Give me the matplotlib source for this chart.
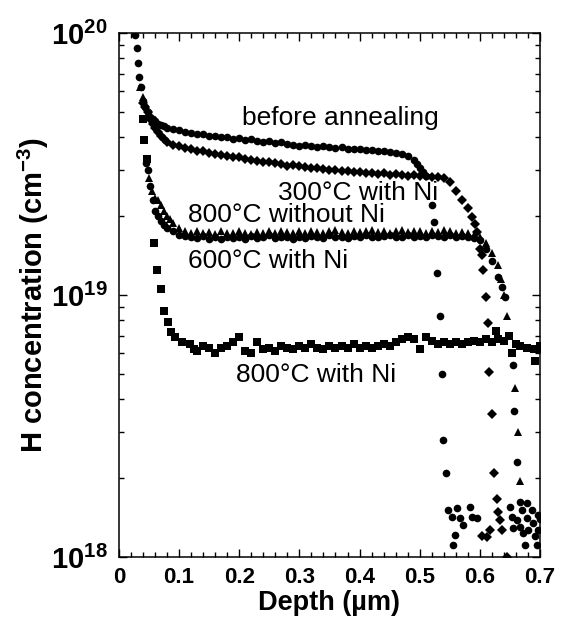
import numpy as np
import matplotlib
matplotlib.use('Agg')
import matplotlib.pyplot as plt
from matplotlib.ticker import MultipleLocator, LogLocator, NullFormatter, FuncFormatter

plt.rcParams['font.family'] = ['Liberation Sans', 'DejaVu Sans']
plt.rcParams['mathtext.fontset'] = 'custom'
plt.rcParams['mathtext.rm'] = 'Liberation Sans:bold'
plt.rcParams['mathtext.bf'] = 'Liberation Sans:bold'
plt.rcParams['mathtext.default'] = 'bf'

#----------------------------- data -----------------------------#

# before annealing (circles)
d_before = [0.027, 0.030, 0.032, 0.034, 0.036, 0.040, 0.044, 0.048, 0.052, 0.056,
            0.060, 0.065, 0.070, 0.075, 0.080, 0.090, 0.100, 0.110, 0.120, 0.130,
            0.140, 0.150, 0.160, 0.170, 0.180, 0.190, 0.200, 0.210, 0.220, 0.230,
            0.240, 0.250, 0.260, 0.270, 0.280, 0.290, 0.300, 0.310, 0.320, 0.330,
            0.340, 0.350, 0.360, 0.370, 0.380, 0.390, 0.400, 0.410, 0.420, 0.430,
            0.440, 0.450, 0.460, 0.470, 0.480, 0.490, 0.495, 0.500, 0.505, 0.510,
            0.520, 0.524, 0.529, 0.534, 0.537, 0.539, 0.543,
            0.547, 0.553, 0.556, 0.559, 0.562, 0.567, 0.572, 0.583, 0.587, 0.595]
c_before = [9.8e19, 8.8e19, 7.7e19, 6.8e19, 6.2e19, 5.5e19, 5.2e19, 5.0e19, 4.8e19, 4.7e19,
            4.6e19, 4.5e19, 4.45e19, 4.4e19, 4.35e19, 4.3e19, 4.25e19, 4.2e19, 4.15e19, 4.1e19,
            4.12e19, 4.05e19, 4.06e19, 4.0e19, 4.02e19, 3.95e19, 3.97e19, 3.9e19, 3.93e19, 3.88e19,
            3.85e19, 3.86e19, 3.8e19, 3.83e19, 3.78e19, 3.75e19, 3.72e19, 3.75e19, 3.7e19, 3.68e19,
            3.71e19, 3.66e19, 3.64e19, 3.67e19, 3.62e19, 3.6e19, 3.61e19, 3.58e19, 3.57e19, 3.55e19,
            3.53e19, 3.5e19, 3.48e19, 3.44e19, 3.38e19, 3.28e19, 3.15e19, 3.05e19, 2.95e19, 2.85e19,
            2.2e19, 1.9e19, 1.21e19, 8.3e18, 5.0e18, 2.8e18, 2.1e18,
            1.51e18, 1.42e18, 1.11e18, 1.21e18, 1.54e18, 1.41e18, 1.33e18, 1.55e18, 1.42e18, 1.41e18]

# 300 C with Ni (diamonds)
d_300 = [0.040, 0.044, 0.048, 0.052, 0.056, 0.060, 0.065, 0.070, 0.075, 0.080,
         0.090, 0.100, 0.110, 0.120, 0.130, 0.140, 0.150, 0.160, 0.170, 0.180,
         0.190, 0.200, 0.210, 0.220, 0.230, 0.240, 0.250, 0.260, 0.270, 0.280,
         0.290, 0.300, 0.310, 0.320, 0.330, 0.340, 0.350, 0.360, 0.370, 0.380,
         0.390, 0.400, 0.410, 0.420, 0.430, 0.440, 0.450, 0.460, 0.470, 0.480,
         0.490, 0.500, 0.510, 0.520, 0.530, 0.540, 0.550, 0.560, 0.570, 0.580,
         0.587, 0.592, 0.595, 0.600, 0.603, 0.605, 0.610, 0.614, 0.616, 0.620, 0.624,
         0.603, 0.612, 0.617, 0.628, 0.630, 0.634, 0.637, 0.645]
c_300 = [5.4e19, 5.2e19, 5.0e19, 4.7e19, 4.5e19, 4.35e19, 4.2e19, 4.05e19, 3.95e19, 3.85e19,
         3.75e19, 3.7e19, 3.65e19, 3.6e19, 3.55e19, 3.53e19, 3.48e19, 3.46e19, 3.43e19, 3.4e19,
         3.36e19, 3.36e19, 3.3e19, 3.29e19, 3.25e19, 3.22e19, 3.21e19, 3.18e19, 3.15e19, 3.12e19,
         3.13e19, 3.1e19, 3.08e19, 3.05e19, 3.06e19, 3.02e19, 3.0e19, 3.01e19, 2.98e19, 2.97e19,
         2.95e19, 2.96e19, 2.93e19, 2.92e19, 2.9e19, 2.91e19, 2.88e19, 2.9e19, 2.87e19, 2.85e19,
         2.86e19, 2.84e19, 2.85e19, 2.82e19, 2.83e19, 2.8e19, 2.7e19, 2.5e19, 2.3e19, 2.14e19,
         1.98e19, 1.86e19, 1.74e19, 1.5e19, 1.42e19, 1.25e19, 9.8e18, 7.8e18, 5.1e18, 3.5e18, 2.1e18,
         1.2e18, 1.19e18, 1.27e18, 1.66e18, 1.48e18, 1.38e18, 1.27e18, 1.0e18]

# 600 C with Ni (circles)
d_600 = [0.045, 0.048, 0.052, 0.056, 0.060, 0.065, 0.070, 0.075, 0.080, 0.090,
         0.100, 0.110, 0.120, 0.130, 0.140, 0.150, 0.160, 0.170, 0.180, 0.190,
         0.200, 0.210, 0.220, 0.230, 0.240, 0.250, 0.260, 0.270, 0.280, 0.290,
         0.300, 0.310, 0.320, 0.330, 0.340, 0.350, 0.360, 0.370, 0.380, 0.390,
         0.400, 0.410, 0.420, 0.430, 0.440, 0.450, 0.460, 0.470, 0.480, 0.490,
         0.500, 0.510, 0.520, 0.530, 0.540, 0.550, 0.560, 0.570, 0.580, 0.590,
         0.600, 0.610, 0.620, 0.630, 0.637, 0.642, 0.655, 0.657, 0.662,
         0.650, 0.653, 0.655, 0.662, 0.667, 0.670, 0.667, 0.672, 0.678, 0.678,
         0.680, 0.675, 0.687, 0.689, 0.692, 0.695, 0.697, 0.697, 0.700]
c_600 = [3.2e19, 3.0e19, 2.6e19, 2.3e19, 2.1e19, 2.0e19, 1.92e19, 1.85e19, 1.8e19, 1.75e19,
         1.7e19, 1.68e19, 1.66e19, 1.65e19, 1.68e19, 1.64e19, 1.66e19, 1.63e19, 1.67e19, 1.65e19,
         1.66e19, 1.64e19, 1.68e19, 1.65e19, 1.66e19, 1.69e19, 1.65e19, 1.67e19, 1.66e19, 1.64e19,
         1.67e19, 1.65e19, 1.68e19, 1.66e19, 1.65e19, 1.69e19, 1.66e19, 1.67e19, 1.65e19, 1.68e19,
         1.66e19, 1.69e19, 1.67e19, 1.66e19, 1.68e19, 1.7e19, 1.67e19, 1.66e19, 1.69e19, 1.67e19,
         1.68e19, 1.66e19, 1.7e19, 1.68e19, 1.67e19, 1.69e19, 1.67e19, 1.68e19, 1.66e19, 1.65e19,
         1.62e19, 1.5e19, 1.35e19, 1.17e19, 1.07e19, 9.8e18, 5.4e18, 3.6e18, 2.3e18,
         1.55e18, 1.42e18, 1.29e18, 1.38e18, 1.62e18, 1.51e18, 1.3e18, 1.24e18, 1.61e18, 1.41e18,
         1.27e18, 1.11e18, 1.51e18, 1.35e18, 1.2e18, 1.11e18, 1.45e18, 1.27e18, 1.4e18]

# 800 C without Ni (triangles)
d_800wo = [0.035, 0.040, 0.050, 0.055, 0.060, 0.065, 0.070, 0.075, 0.080, 0.085,
           0.090, 0.100, 0.110, 0.120, 0.130, 0.140, 0.150, 0.160, 0.170, 0.180,
           0.190, 0.200, 0.210, 0.220, 0.230, 0.240, 0.250, 0.260, 0.270, 0.280,
           0.290, 0.300, 0.310, 0.320, 0.330, 0.340, 0.350, 0.360, 0.370, 0.380,
           0.390, 0.400, 0.410, 0.420, 0.430, 0.440, 0.450, 0.460, 0.470, 0.480,
           0.490, 0.500, 0.510, 0.520, 0.530, 0.540, 0.550, 0.560, 0.570, 0.580,
           0.590, 0.600, 0.610, 0.620, 0.630, 0.635, 0.640, 0.645, 0.658, 0.663, 0.667]
c_800wo = [6.2e19, 5.7e19, 2.8e19, 2.5e19, 2.35e19, 2.3e19, 2.2e19, 2.1e19, 2.0e19, 1.95e19,
           1.88e19, 1.8e19, 1.75e19, 1.73e19, 1.76e19, 1.72e19, 1.74e19, 1.71e19, 1.75e19, 1.73e19,
           1.72e19, 1.76e19, 1.73e19, 1.71e19, 1.74e19, 1.72e19, 1.75e19, 1.73e19, 1.76e19, 1.74e19,
           1.72e19, 1.75e19, 1.73e19, 1.76e19, 1.74e19, 1.72e19, 1.75e19, 1.77e19, 1.74e19, 1.73e19,
           1.76e19, 1.74e19, 1.75e19, 1.77e19, 1.74e19, 1.76e19, 1.73e19, 1.75e19, 1.77e19, 1.74e19,
           1.76e19, 1.75e19, 1.73e19, 1.76e19, 1.74e19, 1.77e19, 1.75e19, 1.73e19, 1.74e19, 1.72e19,
           1.7e19, 1.66e19, 1.58e19, 1.45e19, 1.3e19, 1.15e19, 1.0e19, 8.3e18, 4.4e18, 3.0e18, 1.95e18]

# 800 C with Ni (squares)
d_800ni = [0.040, 0.042, 0.046, 0.058, 0.063, 0.070, 0.075, 0.081, 0.087, 0.093,
           0.105, 0.118, 0.125, 0.130, 0.140, 0.150, 0.160, 0.170, 0.180, 0.190,
           0.200, 0.210, 0.220, 0.230, 0.240, 0.250, 0.260, 0.270, 0.280, 0.290,
           0.300, 0.310, 0.320, 0.330, 0.340, 0.350, 0.360, 0.370, 0.380, 0.390,
           0.400, 0.410, 0.420, 0.430, 0.440, 0.450, 0.460, 0.470, 0.480, 0.490,
           0.500, 0.510, 0.520, 0.530, 0.540, 0.550, 0.560, 0.570, 0.580, 0.590,
           0.600, 0.610, 0.620, 0.627, 0.630, 0.640, 0.648, 0.653, 0.660, 0.667,
           0.678, 0.690, 0.692, 0.697, 0.700]
c_800ni = [4.7e19, 3.9e19, 3.3e19, 1.58e19, 1.25e19, 1.05e19, 8.7e18, 7.9e18, 7.2e18, 6.9e18,
           6.6e18, 6.5e18, 6.2e18, 6.1e18, 6.4e18, 6.3e18, 6.0e18, 6.3e18, 6.4e18, 6.6e18,
           6.9e18, 6.1e18, 6.0e18, 6.6e18, 6.2e18, 6.3e18, 6.1e18, 6.4e18, 6.3e18, 6.2e18,
           6.4e18, 6.3e18, 6.5e18, 6.3e18, 6.2e18, 6.4e18, 6.3e18, 6.4e18, 6.3e18, 6.5e18,
           6.3e18, 6.4e18, 6.3e18, 6.4e18, 6.5e18, 6.4e18, 6.6e18, 6.8e18, 6.9e18, 6.8e18,
           6.2e18, 6.9e18, 6.7e18, 6.5e18, 6.6e18, 6.5e18, 6.6e18, 6.5e18, 6.6e18, 6.7e18,
           6.6e18, 6.8e18, 6.6e18, 7.3e18, 6.8e18, 6.7e18, 7.0e18, 6.0e18, 6.5e18, 6.4e18,
           6.3e18, 6.2e18, 5.6e18, 6.2e18, 6.4e18]

labels = ['before annealing', '300\u00b0C with Ni', '800\u00b0C without Ni',
          '600\u00b0C with Ni', '800\u00b0C with Ni']
label_x = [0.2045, 0.2644, 0.1147, 0.1147, 0.1945]
label_y = [4.46e19, 2.31e19, 1.90e19, 1.27e19, 4.66e18]

#----------------------------------- plot -----------------------------------#

fig = plt.figure(figsize=(5.61, 6.29), dpi=100)
ax = fig.add_axes([0.212, 0.1145, 0.7506, 0.833])

ms = 5.5
ax.plot(d_before, c_before, 'o', color='k', ms=ms, mew=0)
ax.plot(d_300, c_300, 'D', color='k', ms=ms, mew=0)
ax.plot(d_600, c_600, 'o', color='k', ms=ms, mew=0)
ax.plot(d_800wo, c_800wo, '^', color='k', ms=ms + 0.8, mew=0)
ax.plot(d_800ni, c_800ni, 's', color='k', ms=ms - 0.3, mew=0)

for s, x, y in zip(labels, label_x, label_y):
    ax.text(x, y, s, fontsize=19, ha='left', va='baseline', color='k')

ax.set_yscale('log')
ax.set_xlim(0, 0.7)
ax.set_ylim(1e18, 1e20)

ax.xaxis.set_major_locator(MultipleLocator(0.1))
ax.xaxis.set_minor_locator(MultipleLocator(0.02))
ax.xaxis.set_major_formatter(FuncFormatter(lambda v, p: '0' if abs(v) < 1e-9 else '%.1f' % v))
ax.set_yticks([1e18, 1e19, 1e20])
ax.set_yticklabels([r'$10^{18}$', r'$10^{19}$', r'$10^{20}$'])
ax.yaxis.set_minor_locator(LogLocator(base=10, subs=np.arange(2, 10)))
ax.yaxis.set_minor_formatter(NullFormatter())

ax.tick_params(which='both', direction='in', top=True, right=True, width=1.0)
ax.tick_params(which='major', length=6)
ax.tick_params(which='minor', length=3.5)
ax.tick_params(axis='x', labelsize=16, pad=7)
ax.tick_params(axis='y', labelsize=21, pad=8)
for lab in ax.get_xticklabels():
    lab.set_fontweight('bold')
for sp in ax.spines.values():
    sp.set_linewidth(1.1)

ax.set_xlabel('Depth (\u00b5m)', fontsize=19.5, fontweight='bold', labelpad=2)
ax.set_ylabel(r'H concentration (cm$^{-3}$)', fontsize=21, fontweight='bold', labelpad=0)

fig.savefig('out.png', dpi=100)
